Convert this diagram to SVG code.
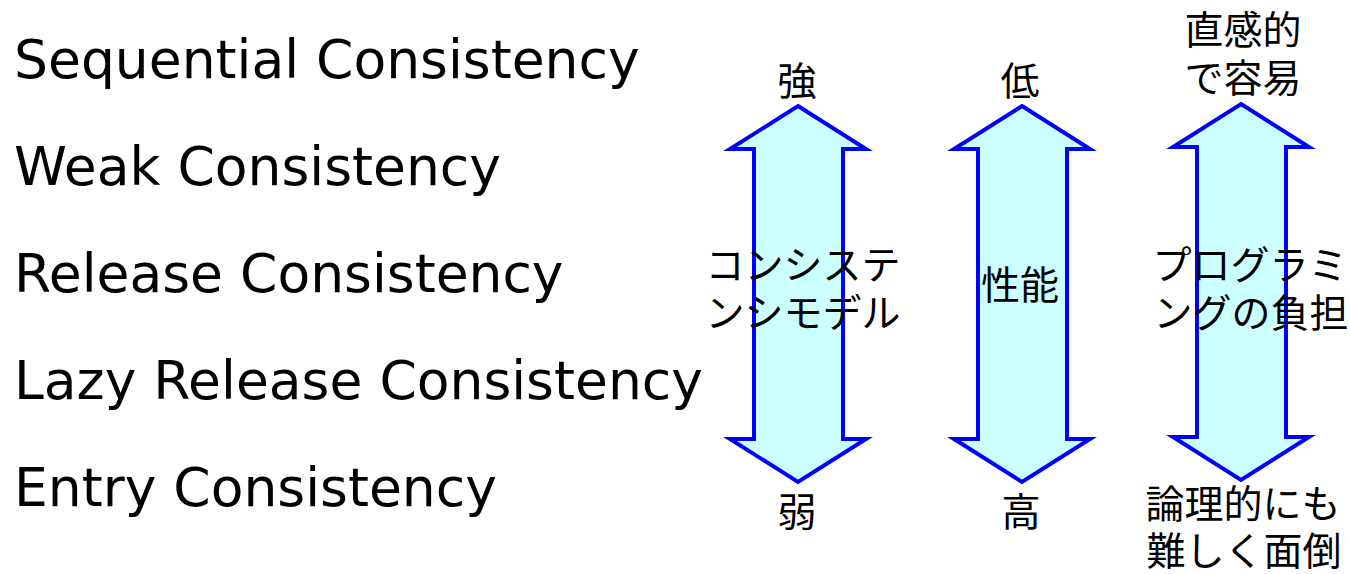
<svg xmlns="http://www.w3.org/2000/svg" width="1350" height="574" viewBox="0 0 1350 574">
<style>
.en{font-family:"DejaVu Sans",sans-serif;font-size:53.5px;fill:#000}
.jp{font-family:"DejaVu Sans","Noto Sans CJK JP",sans-serif;font-size:39px;fill:#000;text-anchor:middle}
.arr{fill:#ccffff;stroke:#0000ff;stroke-width:4;stroke-linejoin:miter}
</style>
<rect width="1350" height="574" fill="#fff"/>
<g id="models">
<text class="en" x="14" y="78">Sequential Consistency</text>
<text class="en" x="14" y="185">Weak Consistency</text>
<text class="en" x="14" y="292">Release Consistency</text>
<text class="en" x="14" y="399">Lazy Release Consistency</text>
<text class="en" x="14" y="506">Entry Consistency</text>
</g>
<g id="connectors">
<polygon id="arrow-consistency" class="arr" points="798,106 866,149 843,149 843,439 866,439 798,482 730,439 754,439 754,149 730,149"/>
<polygon id="arrow-performance" class="arr" points="1022,106 1090,149 1067,149 1067,439 1090,439 1022,482 954,439 978,439 978,149 954,149"/>
<polygon id="arrow-programming" class="arr" points="1241,104 1309,147 1286,147 1286,437 1309,437 1241,480 1173,437 1197,437 1197,147 1173,147"/>
</g>
<g id="consistency-labels">
<text class="jp" x="797" y="95">強</text>
<text class="jp" x="803" y="279">コンシステ</text>
<text class="jp" x="803" y="327">ンシモデル</text>
<text class="jp" x="797" y="526">弱</text>
</g>
<g id="performance-labels">
<text class="jp" x="1020" y="95">低</text>
<text class="jp" x="1020" y="299">性能</text>
<text class="jp" x="1021" y="526">高</text>
</g>
<g id="programming-labels">
<text class="jp" x="1243" y="44">直感的</text>
<text class="jp" x="1243" y="92">で容易</text>
<text class="jp" x="1250" y="279">プログラミ</text>
<text class="jp" x="1251" y="327">ングの負担</text>
<text class="jp" x="1243" y="518">論理的にも</text>
<text class="jp" x="1244" y="565">難しく面倒</text>
</g>
</svg>
